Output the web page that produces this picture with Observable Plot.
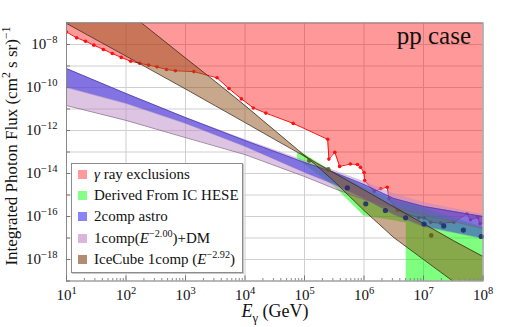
<!DOCTYPE html>
<html>
<head>
<meta charset="utf-8">
<script src="https://cdn.jsdelivr.net/npm/d3@7"></script>
<script src="https://cdn.jsdelivr.net/npm/@observablehq/plot@0.6"></script>
<style>
  html, body { margin: 0; padding: 0; background: #fff; color: #111; }
  #chart { position: relative; width: 506px; height: 327px; font-family: "Liberation Serif", "DejaVu Serif", serif; }
  #legend { position: absolute; left: 71px; top: 163px; width: 172px; height: 110px; box-sizing: border-box;
            border: 1px solid #8c8c8c; background: #fff; box-shadow: 1px 1px 0 #c8c8c8; }
  .row { position: absolute; left: 0; height: 20px; display: flex; align-items: center; font-size: 15px; white-space: nowrap; }
  .sw { width: 9px; height: 9px; margin-left: 6px; margin-right: 7px; flex: none; }
  sup { font-size: 68%; line-height: 0; vertical-align: 0.55em; }
</style>
</head>
<body>
<div id="chart"></div>
<script>
// ---------- data (exponents: log10 E [GeV], log10 flux) ----------
// gamma-ray exclusion boundary
const redLogE = [1.00,1.17,1.32,1.46,1.62,1.77,1.92,2.08,2.23,2.38,2.52,2.68,2.83,3.14,3.53,3.73,3.94,4.14,4.35,4.81,5.39,5.41,5.51,5.59,5.77,5.89,5.94,6.00,6.01,6.17,6.28,6.39,6.42,6.56,6.92,7.01,7.12,7.29,7.51,7.73,7.79,7.91,7.95,8.00];
const redLogF = [-7.42,-7.69,-7.85,-8.03,-8.23,-8.42,-8.60,-8.78,-8.87,-8.96,-9.04,-9.16,-9.22,-9.26,-9.55,-10.05,-10.53,-10.95,-11.19,-11.67,-12.41,-13.33,-13.01,-13.67,-13.56,-13.58,-13.71,-13.95,-14.33,-14.84,-14.71,-14.64,-15.18,-15.72,-16.06,-16.06,-16.27,-16.31,-16.27,-15.87,-16.15,-16.03,-16.34,-16.30];

// Derived from IC HESE (green)
const greenLogE  = [4.88,5.00,5.50,6.00,6.50,6.71,6.71,7.00,8.00];
const greenTop   = [-13.02,-13.10,-13.95,-14.62,-15.25,-15.40,-15.40,-15.62,-16.50];
const greenBot   = [-13.30,-13.58,-14.60,-15.98,-16.20,-16.30,-21.00,-21.00,-21.00];

// 2comp astro (blue)
const bandLogE   = [1,2,3,4,5,5.5,6,6.5,7,7.5,8];
const blueTop    = [-9.12,-10.28,-11.40,-12.47,-13.49,-13.95,-14.51,-15.16,-15.53,-15.77,-16.00];
const blueBot    = [-10.00,-10.74,-11.67,-12.74,-13.95,-14.51,-15.16,-15.91,-16.47,-16.74,-17.02];

// 1comp(E^-2.00)+DM (light purple)
const dmTop      = [-9.12,-10.28,-11.40,-12.42,-13.40,-13.86,-14.37,-14.93,-15.35,-15.63,-15.91];
const dmBot      = [-10.84,-11.53,-12.33,-13.12,-14.14,-14.70,-15.21,-15.58,-15.91,-16.23,-16.56];

// IceCube 1comp (E^-2.92) bow-tie (brown): two edges
const brownLogE  = [1,2,3,3.5,4,4.5,4.9,5.2,5.5,6,6.5,7,7.5,8];
const brownEdgeA = [-7.02,-8.54,-10.07,-10.85,-11.63,-12.42,-13.04,-13.51,-13.98,-14.76,-15.55,-16.33,-17.12,-17.86];
const brownEdgeB = [-4.23,-6.42,-8.63,-9.72,-10.84,-12.00,-12.93,-13.63,-14.37,-15.72,-16.98,-18.00,-19.02,-20.05];

// data points
const navyLogE  = [5.72,6.03,6.36,6.70,7.01,7.34,7.67,7.97];
const navyLogF  = [-14.67,-15.41,-15.72,-16.06,-16.35,-16.44,-16.63,-16.93];
const oliveLogE = [5.08,5.40,7.13];
const oliveLogF = [-13.40,-13.81,-16.88];

// ticks
const xTickExp = [1,2,3,4,5,6,7,8];
const yLabelExp = [-18,-16,-14,-12,-10,-8];
const yGridExp = [-19,-18,-17,-16,-15,-14,-13,-12,-11,-10,-9,-8,-7];

// legend
const legendItems = [
  {color: "#ff9a9a", html: "<i>γ</i> ray exclusions"},
  {color: "#84ff84", html: "Derived From IC HESE"},
  {color: "#8a84f4", html: "2comp astro"},
  {color: "#dab6dc", html: "1comp(<i>E</i><sup>−2.00</sup>)+DM"},
  {color: "#b08c70", html: "IceCube 1comp (<i>E</i><sup>−2.92</sup>)"}
];

// ---------- build tables ----------
const p10 = v => Math.pow(10, v);
const pts = (es, fs) => es.map((e, i) => ({E: p10(e), F: p10(fs[i])}));
const band = (es, a, b) => es.map((e, i) => ({E: p10(e), lo: p10(Math.min(a[i], b[i])), hi: p10(Math.max(a[i], b[i]))}));

const red = pts(redLogE, redLogF);
const redFill = red.map(d => ({E: d.E, lo: d.F, hi: 1e-5}));
const green = band(greenLogE, greenTop, greenBot);
const blue = band(bandLogE, blueTop, blueBot);
const dm = band(bandLogE, dmTop, dmBot);
const brown = band(brownLogE, brownEdgeA, brownEdgeB);
const brownA = pts(brownLogE, brownEdgeA);
const brownB = pts(brownLogE, brownEdgeB);
const blueTopL = pts(bandLogE, blueTop);
const blueBotL = pts(bandLogE, blueBot);
const dmBotL = pts(bandLogE, dmBot);
const navy = pts(navyLogE, navyLogF);
const olive = pts(oliveLogE, oliveLogF);

const xTicks = xTickExp.map(p10);
const xMinor = [];
for (const e of xTickExp.slice(0, -1)) for (let m = 2; m <= 9; m++) xMinor.push(m * p10(e));
const yLabels = yLabelExp.map(p10);
const yGrid = yGridExp.map(p10);
const fmtPow = d => "10^" + Math.round(Math.log10(d));

const plot = Plot.plot({
  width: 506, height: 327,
  marginTop: 22.5, marginRight: 23.5, marginBottom: 46.5, marginLeft: 66,
  style: {fontFamily: "'Liberation Serif', 'DejaVu Serif', serif", fontSize: "15px", background: "white", color: "#111"},
  x: {type: "log", domain: [1e1, 1e8], label: null},
  y: {type: "log", domain: [1e-19, 1e-7], label: null},
  marks: [
    Plot.gridX(xTicks, {stroke: "#cfcfcf", strokeOpacity: 1, strokeWidth: 1}),
    Plot.gridY(yGrid, {stroke: "#cfcfcf", strokeOpacity: 1, strokeWidth: 1}),
    Plot.areaY(redFill, {x: "E", y1: "lo", y2: "hi", fill: "#ff0000", fillOpacity: 0.4, clip: true}),
    Plot.line(red, {x: "E", y: "F", stroke: "#ff1010", strokeWidth: 1, clip: true}),
    Plot.dot(red.slice(0, -1), {x: "E", y: "F", r: 1.8, fill: "#ff1010", clip: true}),
    Plot.areaY(green, {x: "E", y1: "lo", y2: "hi", fill: "#00ff00", fillOpacity: 0.5, clip: true}),
    Plot.areaY(dm, {x: "E", y1: "lo", y2: "hi", fill: "#b98ac5", fillOpacity: 0.5, clip: true}),
    Plot.areaY(blue, {x: "E", y1: "lo", y2: "hi", fill: "#2a20e0", fillOpacity: 0.5, clip: true}),
    Plot.areaY(brown, {x: "E", y1: "lo", y2: "hi", fill: "#915119", fillOpacity: 0.5, clip: true}),
    Plot.line(dmBotL, {x: "E", y: "F", stroke: "#7a5a80", strokeWidth: 0.7, clip: true}),
    Plot.line(blueTopL, {x: "E", y: "F", stroke: "#4a3aa8", strokeWidth: 0.7, clip: true}),
    Plot.line(blueBotL, {x: "E", y: "F", stroke: "#5a4aa8", strokeWidth: 0.5, strokeOpacity: 0.6, clip: true}),
    Plot.line(brownA, {x: "E", y: "F", stroke: "#3c2a1c", strokeWidth: 0.8, clip: true}),
    Plot.line(brownB, {x: "E", y: "F", stroke: "#3c2a1c", strokeWidth: 0.8, clip: true}),
    Plot.dot(navy, {x: "E", y: "F", r: 2.6, fill: "#1c2a66", fillOpacity: 0.85}),
    Plot.dot(olive, {x: "E", y: "F", r: 2.3, fill: "#5a5a1c", fillOpacity: 0.85}),
    Plot.frame({stroke: "#8a8a8a", strokeWidth: 1}),
    Plot.axisX(xTicks, {tickSize: 0, tickPadding: 8, tickFormat: fmtPow, fontSize: 15, label: null}),
    Plot.axisX(xTicks, {tickSize: -5, tickFormat: () => "", label: null, stroke: "#777"}),
    Plot.axisX(xMinor, {tickSize: -2.5, tickFormat: () => "", label: null, stroke: "#888"}),
    Plot.axisY(yLabels, {tickSize: 0, tickPadding: 9, tickFormat: fmtPow, fontSize: 15, label: null}),
    Plot.axisY(yGrid, {tickSize: -4, tickFormat: () => "", label: null, stroke: "#777"}),
    Plot.text(["pp case"], {text: d => d, frameAnchor: "top-right", dx: -12, dy: 3, fontSize: 25, fill: "#111"})
  ]
});

// ---------- rich text helpers ----------
function rich(sel, parts, size) {
  let shift = 0;
  for (const p of parts) {
    const target = p.sup ? -0.4 * size : p.sub ? 0.28 * size : 0;
    const ts = sel.append("tspan").text(p.t);
    if (target - shift !== 0) ts.attr("dy", target - shift);
    if (p.sup || p.sub) ts.attr("font-size", size * 0.7);
    if (p.it) ts.attr("font-style", "italic");
    shift = target;
  }
}

const svg = d3.select(plot);
svg.selectAll('g[aria-label="x-axis tick label"] text, g[aria-label="y-axis tick label"] text').each(function () {
  const m = /^10\^(-?\d+)$/.exec(this.textContent);
  if (!m) return;
  const el = d3.select(this);
  el.text(null);
  rich(el, [{t: "10"}, {t: m[1].replace("-", "−"), sup: true}], 15);
});

const yl = svg.append("text")
  .attr("transform", "translate(17,146) rotate(-90)")
  .attr("text-anchor", "middle").attr("font-size", 17).attr("fill", "#111");
rich(yl, [{t: "Integrated Photon Flux (cm"}, {t: "2", sup: true}, {t: " s sr)"}, {t: "−1", sup: true}], 17);

const xl = svg.append("text")
  .attr("x", 275).attr("y", 317)
  .attr("text-anchor", "middle").attr("font-size", 18).attr("fill", "#111");
rich(xl, [{t: "E", it: true}, {t: "γ", sub: true}, {t: " (GeV)"}], 18);

const chart = document.getElementById("chart");
chart.appendChild(plot);

// ---------- legend ----------
const leg = document.createElement("div");
leg.id = "legend";
const rowCenters = [11, 32.3, 53.7, 75.3, 96.3];
legendItems.forEach((it, i) => {
  const row = document.createElement("div");
  row.className = "row";
  row.style.top = (rowCenters[i] - 11) + "px";
  row.innerHTML = `<span class="sw" style="background:${it.color}"></span><span>${it.html}</span>`;
  leg.appendChild(row);
});
chart.appendChild(leg);
</script>
</body>
</html>
